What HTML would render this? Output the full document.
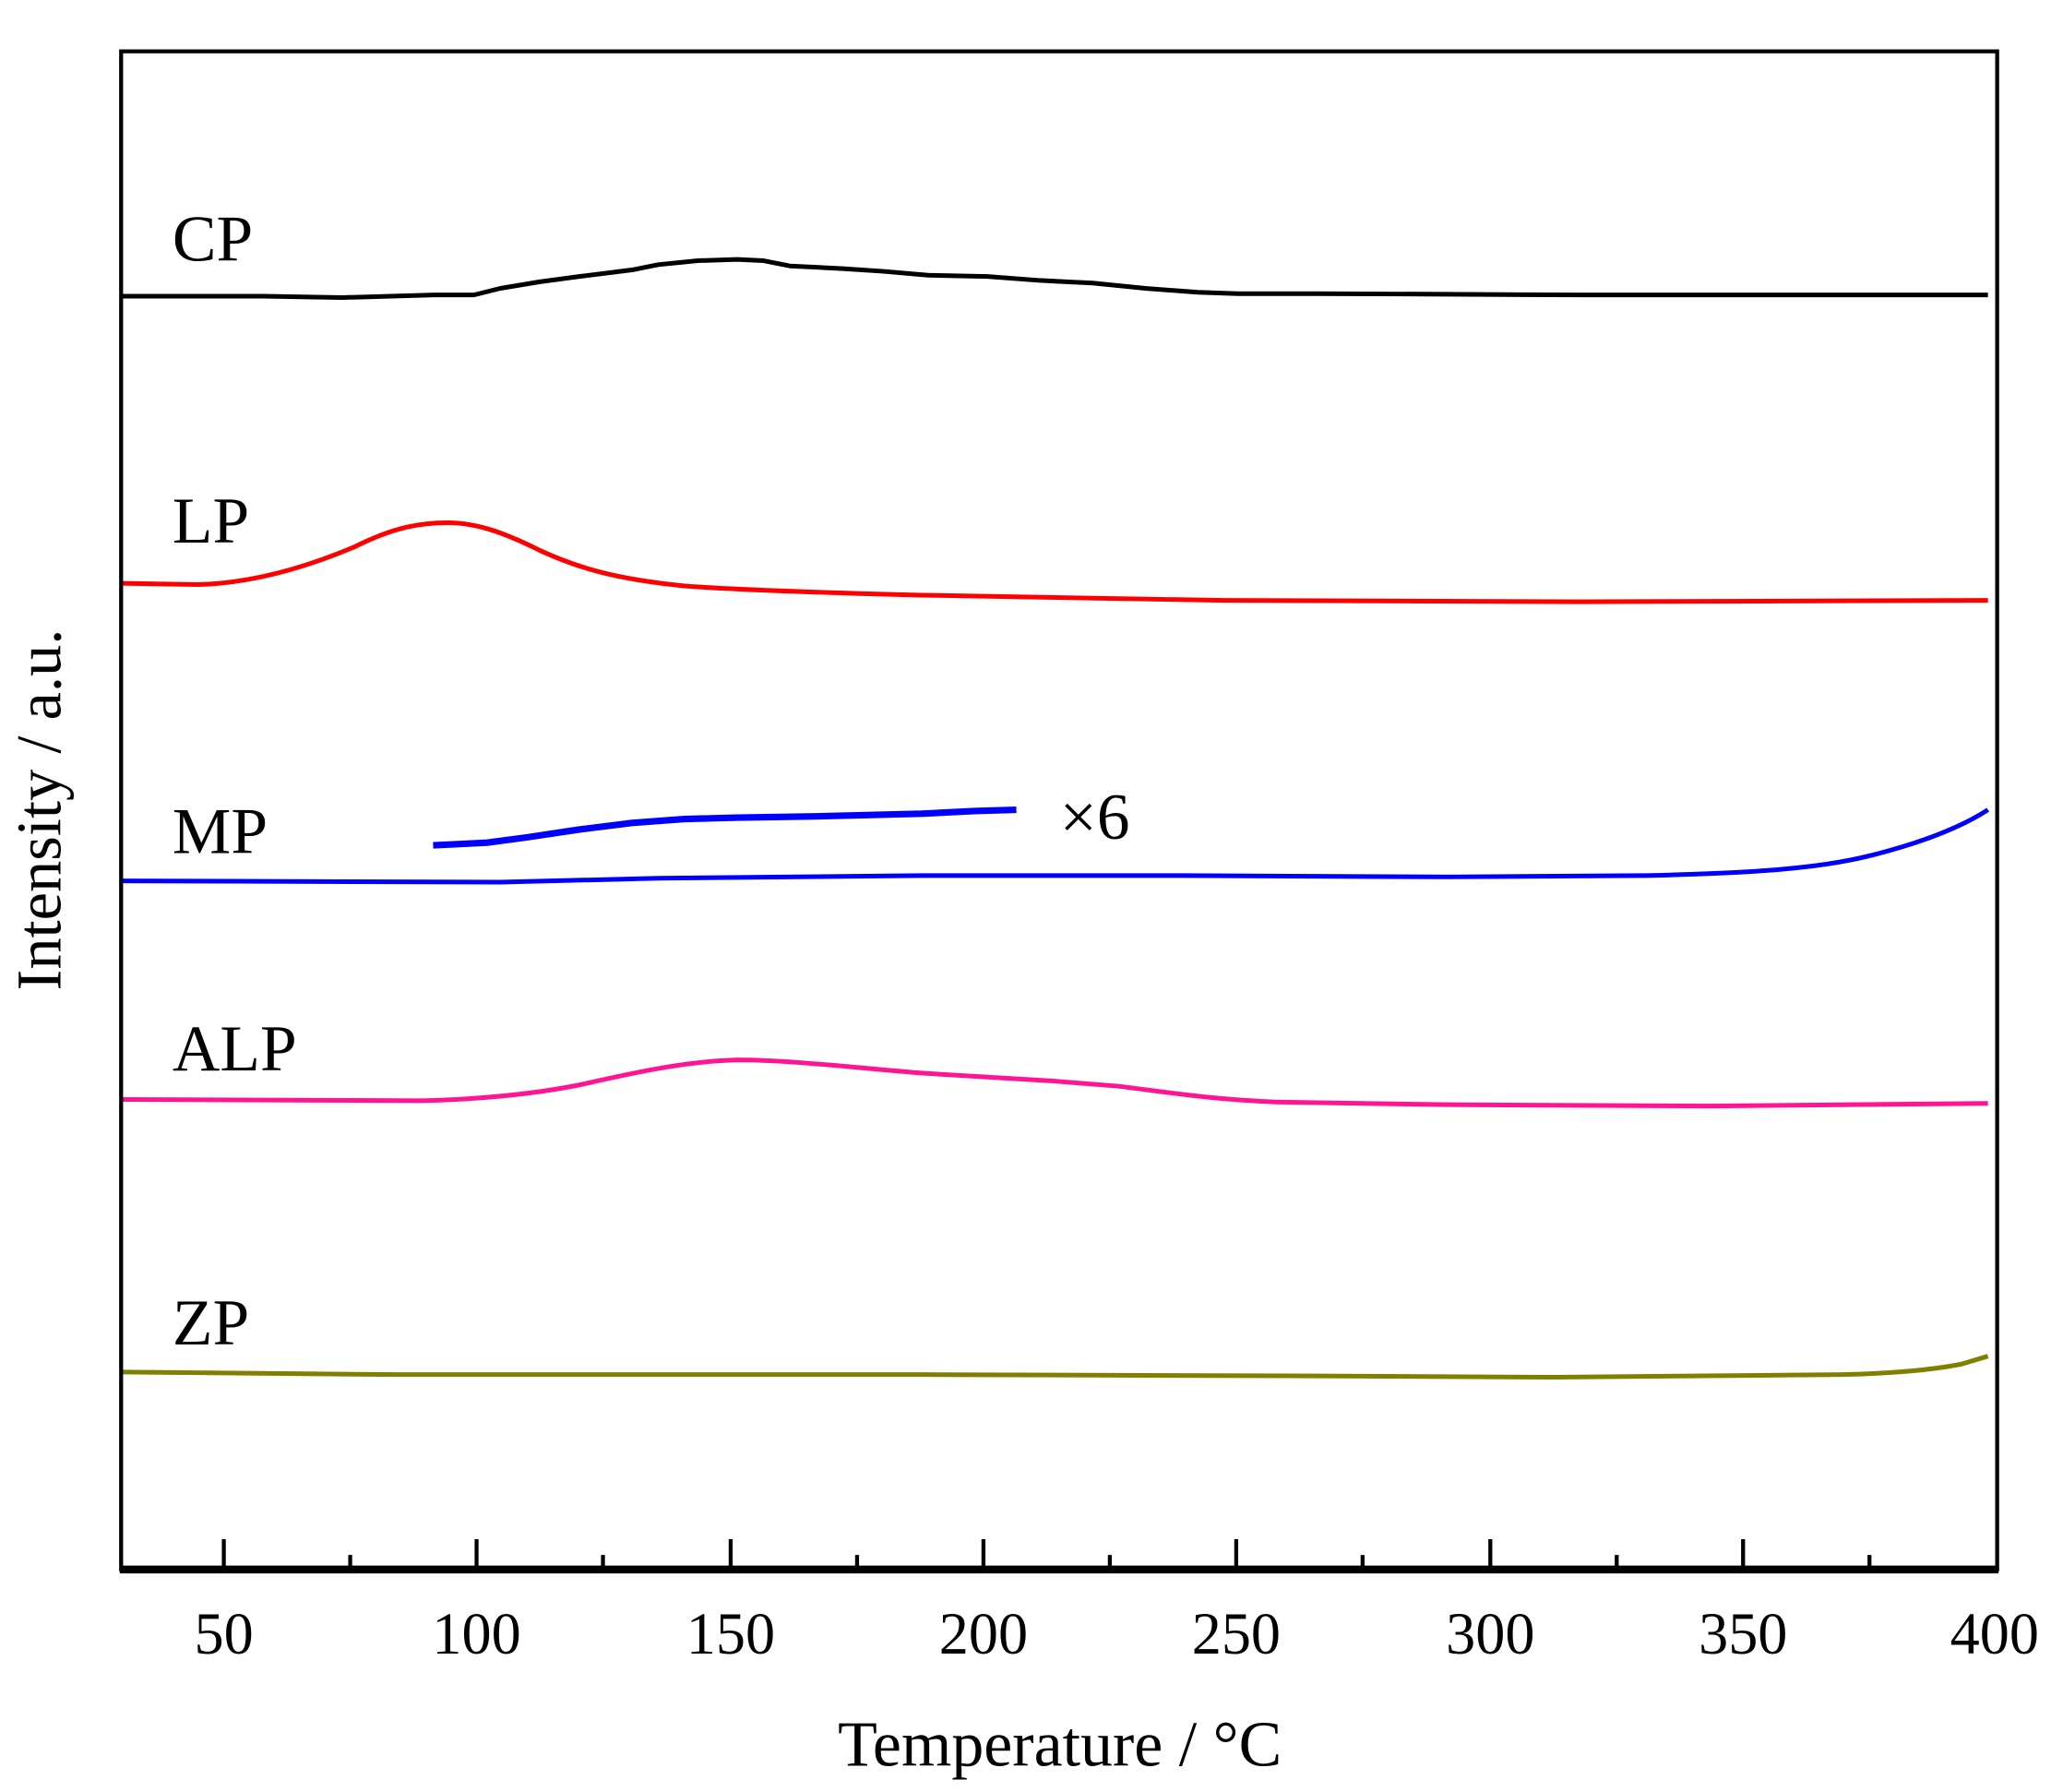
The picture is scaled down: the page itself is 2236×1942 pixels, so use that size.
<!DOCTYPE html>
<html><head><meta charset="utf-8"><style>html,body{margin:0;padding:0;background:#fff}svg{display:block}</style></head>
<body>
<svg width="2236" height="1942" viewBox="0 0 1567 1361" preserveAspectRatio="none" xmlns="http://www.w3.org/2000/svg" font-family="Liberation Serif, serif">
<rect x="0" y="0" width="1567" height="1361" fill="#fff"/>
<g fill="none" stroke-width="3.5" stroke-linejoin="round">
<path stroke="#000" d="M92 225 L200 225 L260 226 L330 224 L360 224 L380 219 L410 214 L440 210 L480 205 L500 201 L530 198 L560 197 L580 198 L600 202 L640 204 L670 206 L705 209 L750 210 L790 213 L830 215 L870 219 L910 222 L940 223 L1000 223 L1200 224 L1510 224"/>
<path stroke="#ff0000" d="M92 443 L150 444 C190 443 230 432 270 415 C300 400 320 397 340 397 C360 397 380 403 410 418 C440 432 470 440 520 445 C560 448 620 450 700 452 L930 456 L1200 457 L1510 456"/>
<path stroke="#0000ff" d="M92 669 L380 670 L500 667 L700 665 L900 665 L1100 666 L1250 665 C1330 663 1380 660 1420 650 C1460 640 1490 628 1510 615"/>
<path stroke="#0000ff" stroke-width="5" d="M329 642 L370 640 L400 636 L440 630 L480 625 L520 622 L560 621 L620 620 L700 618 L740 616 L772 615"/>
<path stroke="#ff1493" d="M92 835 L320 836 C360 835 400 832 440 824 C480 815 520 806 560 805 C600 805 650 811 700 815 L800 821 L850 825 C890 830 920 835 970 837 L1100 839 L1300 840 L1510 838"/>
<path stroke="#808000" d="M92 1042 L300 1044 L700 1044 L1000 1045 L1180 1046 L1400 1044 C1440 1043 1470 1040 1490 1036 L1510 1030"/>
</g>
<rect x="92" y="39" width="1425" height="1153" fill="none" stroke="#000" stroke-width="3"/>
<line x1="91" y1="1192" x2="1518" y2="1192" stroke="#000" stroke-width="6"/>
<g stroke="#000" stroke-width="3">
<path d="M170 1192V1169M362 1192V1169M555 1192V1169M747 1192V1169M939 1192V1169M1132 1192V1169M1324 1192V1169M266 1192V1181M458 1192V1181M651 1192V1181M843 1192V1181M1035 1192V1181M1228 1192V1181M1420 1192V1181"/>
</g>
<g font-size="45" text-anchor="middle" fill="#000">
<text x="170" y="1256">50</text><text x="362" y="1256">100</text><text x="555" y="1256">150</text><text x="747" y="1256">200</text><text x="939" y="1256">250</text><text x="1132" y="1256">300</text><text x="1324" y="1256">350</text><text x="1515" y="1256">400</text>
<text x="805" y="1341" font-size="49">Temperature / °C</text>
<text transform="translate(46 615) rotate(-90)" font-size="48">Intensity / a.u.</text>
</g>
<g font-size="50" fill="#000">
<text x="131" y="198">CP</text><text x="131" y="412">LP</text><text x="131" y="648">MP</text><text x="131" y="813">ALP</text><text x="131" y="1021">ZP</text><text x="805" y="637">×6</text>
</g>
</svg>
</body></html>
